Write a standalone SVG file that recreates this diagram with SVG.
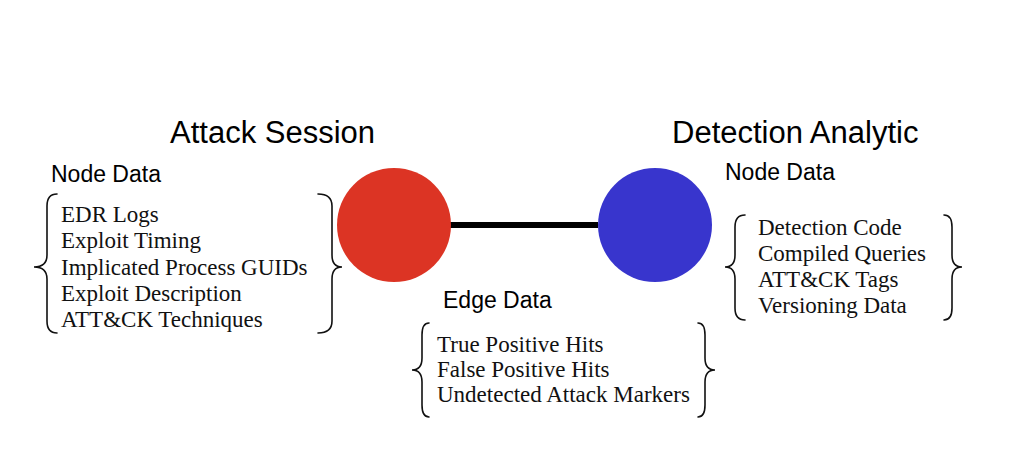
<svg xmlns="http://www.w3.org/2000/svg" width="1024" height="462" viewBox="0 0 1024 462">
<style>
.title{font-family:"Liberation Sans",Arial,sans-serif;font-size:31px;fill:#000}
.head{font-family:"Liberation Sans",Arial,sans-serif;font-size:23px;fill:#000}
.item{font-family:"Liberation Serif","Times New Roman",serif;font-size:23px;fill:#111}
.brace{fill:none;stroke:#111;stroke-width:1.6;stroke-linecap:round}
</style>
<rect width="1024" height="462" fill="#fff"/>
<g id="connectors">
<line x1="450" y1="225" x2="598" y2="225" stroke="#000" stroke-width="6"/>
</g>
<g id="attack-session">
<text class="title" x="170" y="143">Attack Session</text>
<circle cx="394" cy="225" r="57" fill="#dc3424"/>
<text class="head" x="51" y="182">Node Data</text>
<path class="brace" d="M57,194 Q47,194 47,206 L47,255 Q47,267 34,267 Q47,267 47,279 L47,321 Q47,333 57,333"/>
<path class="brace" d="M318,194 Q332,194 332,206 L332,255 Q332,267 342,267 Q332,267 332,279 L332,321 Q332,333 318,333"/>
<text class="item" x="61" y="222">EDR Logs</text>
<text class="item" x="61" y="248">Exploit Timing</text>
<text class="item" x="61" y="275">Implicated Process GUIDs</text>
<text class="item" x="61" y="301">Exploit Description</text>
<text class="item" x="61" y="327">ATT&amp;CK Techniques</text>
</g>
<g id="detection-analytic">
<text class="title" x="672" y="143">Detection Analytic</text>
<circle cx="655" cy="225" r="57" fill="#3835cd"/>
<text class="head" x="725" y="180">Node Data</text>
<path class="brace" d="M745,215 Q735,215 735,227 L735,255 Q735,267 725,267 Q735,267 735,279 L735,308 Q735,320 745,320"/>
<path class="brace" d="M944,215 Q952,215 952,227 L952,255 Q952,267 962,267 Q952,267 952,279 L952,308 Q952,320 944,320"/>
<text class="item" x="758" y="235">Detection Code</text>
<text class="item" x="758" y="261">Compiled Queries</text>
<text class="item" x="758" y="287">ATT&amp;CK Tags</text>
<text class="item" x="758" y="313">Versioning Data</text>
</g>
<g id="edge-data">
<text class="head" x="443" y="308">Edge Data</text>
<path class="brace" d="M429,323 Q422,323 422,335 L422,358 Q422,370 412,370 Q422,370 422,382 L422,405 Q422,417 429,417"/>
<path class="brace" d="M698,323 Q705,323 705,335 L705,358 Q705,370 715,370 Q705,370 705,382 L705,405 Q705,417 698,417"/>
<text class="item" x="437" y="352">True Positive Hits</text>
<text class="item" x="437" y="377">False Positive Hits</text>
<text class="item" x="437" y="402">Undetected Attack Markers</text>
</g>
</svg>
